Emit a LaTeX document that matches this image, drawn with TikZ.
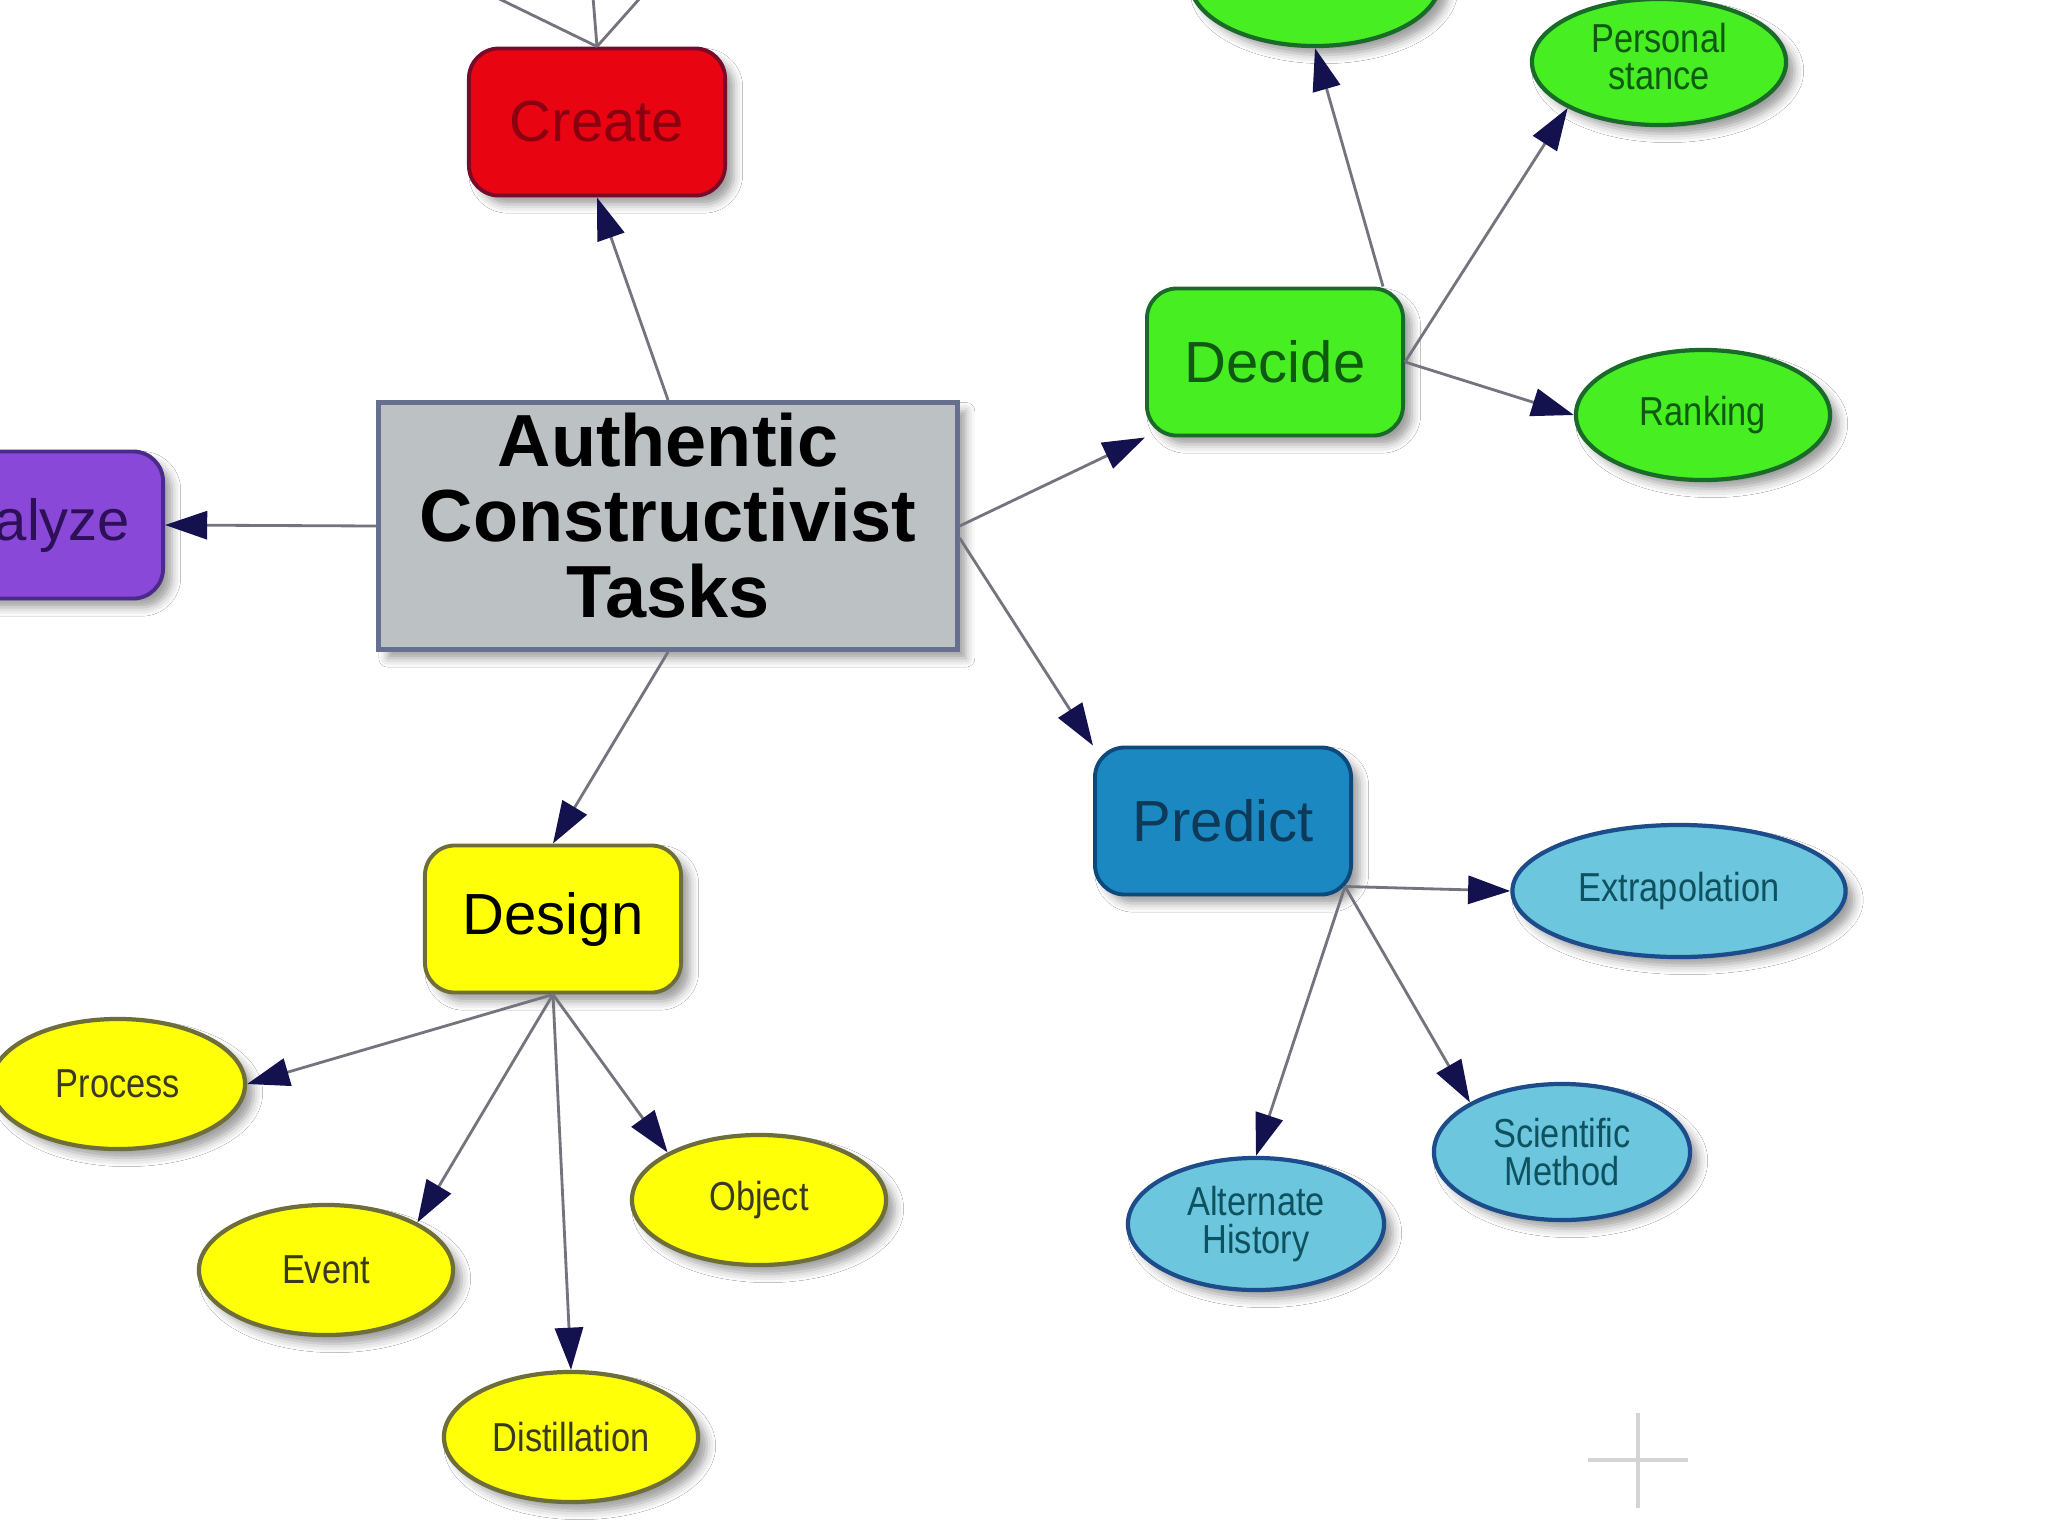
\documentclass[tikz,border=0pt]{standalone}
\usepackage{fontspec}
\setmainfont{Liberation Sans}
\newfontfamily\nfont[FakeStretch=0.85]{Liberation Sans}
\usetikzlibrary{arrows.meta,shapes.geometric,shadows.blur,calc}
\definecolor{centralfill}{HTML}{BCC2C4}
\definecolor{centralborder}{HTML}{66708E}
\definecolor{redfill}{HTML}{E80410}
\definecolor{redborder}{HTML}{7A0A2A}
\definecolor{redtext}{HTML}{8A0010}
\definecolor{purplefill}{HTML}{8A48D8}
\definecolor{purpleborder}{HTML}{4A2A8A}
\definecolor{purpletext}{HTML}{2E1058}
\definecolor{greenfill}{HTML}{46EE22}
\definecolor{greenborder}{HTML}{1A6A2A}
\definecolor{greentext}{HTML}{0E5A10}
\definecolor{bluefill}{HTML}{1C88C2}
\definecolor{blueborder}{HTML}{0C4A7C}
\definecolor{bluetext}{HTML}{0C3A58}
\definecolor{yellowfill}{HTML}{FFFF08}
\definecolor{yellowborder}{HTML}{6E6E3A}
\definecolor{yellowtext}{HTML}{3A3A24}
\definecolor{cyanfill}{HTML}{6CC6DE}
\definecolor{cyanborder}{HTML}{1C4C8A}
\definecolor{cyantext}{HTML}{0E5260}
\definecolor{edgec}{HTML}{74747E}
\definecolor{arrowc}{HTML}{14124E}
\definecolor{crossc}{HTML}{D4D4D4}
\tikzset{
  softshadow/.style={blur shadow={shadow xshift=2.5pt,shadow yshift=-2.5pt,shadow blur radius=2.5pt,shadow opacity=38}},
  centralbox/.style={rectangle,draw=centralborder,line width=1.4pt,fill=centralfill,
    minimum width=5.78cm,minimum height=2.47cm,align=center,inner sep=0pt,
    font=\bfseries\fontsize{21}{20.8}\selectfont,softshadow},
  taskbox/.style={rectangle,rounded corners=0.3cm,line width=1.1pt,minimum width=2.56cm,
    minimum height=1.47cm,inner sep=0pt,font=\fontsize{16.5}{18}\selectfont,softshadow},
  leaf/.style={ellipse,minimum width=2.54cm,minimum height=1.3cm,inner sep=0pt,line width=1.2pt,
    align=center,font=\nfont\fontsize{11.5}{10.6}\selectfont,softshadow},
  greenleaf/.style={leaf,draw=greenborder,fill=greenfill,text=greentext},
  cyanleaf/.style={leaf,draw=cyanborder,fill=cyanfill,text=cyantext},
  yellowleaf/.style={leaf,draw=yellowborder,fill=yellowfill,text=yellowtext},
  link/.style={line width=0.8pt,draw=edgec,-{Triangle[length=12pt,width=8pt,color=arrowc]}},
  plainlink/.style={line width=0.8pt,draw=edgec}
}
\begin{document}
\begin{tikzpicture}[x=0.01cm,y=-0.01cm]
\useasboundingbox (0,0) rectangle (2048,1536);
\clip (0,0) rectangle (2048,1536);
\fill[white] (0,0) rectangle (2048,1536);

% main nodes
\node[centralbox] (central) at (668,526) {\raisebox{3pt}{\begin{tabular}{@{}c@{}}Authentic\\Constructivist\\Tasks\end{tabular}}};
\node[taskbox,draw=redborder,fill=redfill,text=redtext] (create) at (597,122) {Create};
\node[taskbox,draw=purpleborder,fill=purplefill,text=purpletext,minimum width=2.72cm] (analyze) at (27,525) {Analyze};
\node[taskbox,draw=greenborder,fill=greenfill,text=greentext] (decide) at (1275,362) {Decide};
\node[taskbox,draw=blueborder,fill=bluefill,text=bluetext] (predict) at (1223,821) {Predict};
\node[taskbox,draw=yellowborder,fill=yellowfill,text=black] (design) at (553,919) {Design};

% green leaves
\node[greenleaf,minimum width=2.5cm] (topleaf) at (1315,-19) {};
\node[greenleaf,minimum height=1.26cm] (personal) at (1659,62) {\raisebox{2pt}{\begin{tabular}{@{}c@{}}Personal\\stance\end{tabular}}};
\node[greenleaf] (ranking) at (1703,415) {Ranking};

% cyan leaves
\node[cyanleaf,minimum width=3.33cm,minimum height=1.32cm] (extrap) at (1679,891) {Extrapolation};
\node[cyanleaf,minimum width=2.56cm,minimum height=1.36cm] (scientific) at (1562,1152) {Scientific\\Method};
\node[cyanleaf,minimum width=2.56cm,minimum height=1.32cm] (alternate) at (1256,1224) {Alternate\\History};

% yellow leaves
\node[yellowleaf] (process) at (118,1084) {Process};
\node[yellowleaf] (event) at (326,1270) {Event};
\node[yellowleaf] (object) at (759,1200) {Object};
\node[yellowleaf] (distill) at (571,1437) {Distillation};

% off-frame link ends above Create
\coordinate (upleft) at (440,-30);
\coordinate (upmid) at (590,-40);
\coordinate (upright) at (665,-30);
\coordinate (decidetop) at ($(decide.north east)+(-22,0)$);
\coordinate (predictcorner) at ($(predict.south east)+(-8,-10)$);

% connectors
\draw[plainlink] (create.north) -- (upleft);
\draw[plainlink] (create.north) -- (upmid);
\draw[plainlink] (create.north) -- (upright);

\draw[link] (central.north) -- (create.south);
\draw[link] (central.west) -- (analyze.east);
\draw[link] (central.east) -- (decide.south west);
\draw[link] ($(central.east)+(0,12)$) -- (predict.north west);
\draw[link] (central.south) -- (design.north);

\draw[link] (decidetop) -- (topleaf.south);
\draw[link] (decide.east) -- (personal.south west);
\draw[link] (decide.east) -- (ranking.west);

\draw[link] (predictcorner) -- (extrap.west);
\draw[link] (predictcorner) -- (alternate.north);
\draw[link] (predictcorner) -- (scientific.north west);

\draw[link] (design.south) -- (process.east);
\draw[link] (design.south) -- (event.north east);
\draw[link] (design.south) -- (object.north west);
\draw[link] (design.south) -- (distill.north);

% faint cross mark
\draw[crossc,line width=1.2pt] (1588,1460) -- (1688,1460);
\draw[crossc,line width=1.2pt] (1638,1413) -- (1638,1508);
\end{tikzpicture}
\end{document}
